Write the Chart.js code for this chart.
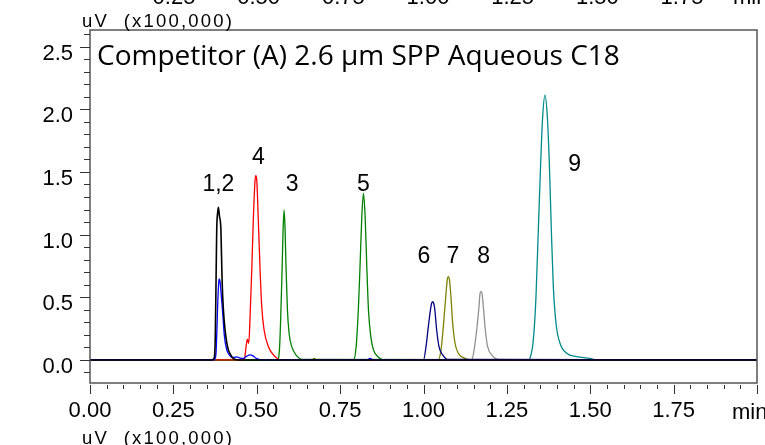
<!DOCTYPE html>
<html>
<head>
<meta charset="utf-8">
<script src="https://cdn.jsdelivr.net/npm/chart.js@4.4.1/dist/chart.umd.min.js"></script>
<style>
  html, body { margin: 0; padding: 0; background: #fff; }
  canvas { display: block; }
</style>
</head>
<body>
<canvas id="chrom" width="765" height="445"></canvas>
<script>
// retention time (min) and signal (uV x100,000)
const blackT = [0, 0.365, 0.371, 0.374, 0.376, 0.378, 0.380, 0.3825, 0.385, 0.388, 0.3925, 0.396, 0.400, 0.405, 0.410, 0.415, 0.422, 0.430, 0.445, 2.0];
const blackY = [0, 0, 0.01, 0.05, 0.24, 0.64, 1.04, 1.17, 1.218, 1.15, 1.04, 0.64, 0.40, 0.24, 0.14, 0.08, 0.04, 0.01, 0, 0];

const blueT = [0, 0.37, 0.375, 0.378, 0.380, 0.383, 0.386, 0.388, 0.391, 0.394, 0.398, 0.403, 0.41, 0.418, 0.425, 0.432, 0.44, 0.45, 0.46, 0.47, 0.48, 0.49, 0.50, 0.52, 0.83, 0.84, 0.85, 2.0];
const blueY = [0, 0, 0.01, 0.06, 0.2, 0.45, 0.62, 0.646, 0.6, 0.5, 0.37, 0.19, 0.08, 0.04, 0.02, 0.02, 0.025, 0.015, 0.012, 0.03, 0.04, 0.03, 0.01, 0, 0, 0.012, 0, 0];

const redT = [0, 0.455, 0.463, 0.468, 0.472, 0.476, 0.480, 0.485, 0.490, 0.495, 0.497, 0.500, 0.505, 0.510, 0.515, 0.522, 0.535, 0.555, 0.570, 2.0];
const redY = [0, 0, 0.005, 0.106, 0.165, 0.133, 0.346, 0.718, 1.143, 1.435, 1.47, 1.435, 1.09, 0.718, 0.425, 0.239, 0.106, 0.027, 0, 0];

const green3T = [0, 0.562, 0.568, 0.572, 0.576, 0.579, 0.582, 0.585, 0.588, 0.592, 0.597, 0.605, 0.620, 0.635, 2.0];
const green3Y = [0, 0, 0.08, 0.346, 0.718, 1.037, 1.196, 1.037, 0.718, 0.399, 0.213, 0.106, 0.032, 0.005, 0];

const green5T = [0, 0.790, 0.798, 0.805, 0.810, 0.815, 0.820, 0.825, 0.830, 0.835, 0.842, 0.850, 0.865, 0.880, 2.0];
const green5Y = [0, 0, 0.106, 0.425, 0.771, 1.143, 1.329, 1.143, 0.744, 0.399, 0.186, 0.08, 0.021, 0, 0];

const navyT = [0, 1.0, 1.0075, 1.0145, 1.0215, 1.0245, 1.0275, 1.0305, 1.0335, 1.0395, 1.0465, 1.0575, 1.0715, 2.0];
const navyY = [0, 0, 0.106, 0.266, 0.412, 0.452, 0.465, 0.452, 0.412, 0.239, 0.106, 0.04, 0.005, 0];

const oliveT = [0, 0.665, 0.672, 0.68, 1.0445, 1.0525, 1.0595, 1.0675, 1.0715, 1.0745, 1.0775, 1.0815, 1.0875, 1.0945, 1.1045, 1.1195, 1.1395, 2.0];
const oliveY = [0, 0, 0.012, 0, 0, 0.08, 0.266, 0.532, 0.645, 0.664, 0.645, 0.532, 0.293, 0.133, 0.053, 0.018, 0, 0];

const grayT = [0, 1.1445, 1.1525, 1.1595, 1.1664, 1.1694, 1.1724, 1.1754, 1.1794, 1.1854, 1.1924, 1.2044, 1.2244, 2.0];
const grayY = [0, 0, 0.093, 0.239, 0.425, 0.53, 0.545, 0.53, 0.425, 0.239, 0.106, 0.04, 0.005, 0];

const tealT = [0, 1.3143, 1.3193, 1.3293, 1.3373, 1.3443, 1.3513, 1.3573, 1.3643, 1.3713, 1.3773, 1.3833, 1.3893, 1.3973, 1.4093, 1.4293, 1.4593, 1.4993, 1.519, 2.0];
const tealY = [0, 0, 0.013, 0.159, 0.505, 1.037, 1.569, 1.94, 2.113, 1.94, 1.569, 1.037, 0.585, 0.293, 0.133, 0.053, 0.027, 0.013, 0, 0];

const peakLabels = ['1,2', '4', '3', '5', '6', '7', '8', '9'];
const peakLabelT = [0.385, 0.505, 0.606, 0.82, 1.0015, 1.0885, 1.1805, 1.453];
const peakLabelY = [1.40, 1.61, 1.40, 1.40, 0.825, 0.825, 0.825, 1.56];

const xTicks = [0, 0.25, 0.5, 0.75, 1.0, 1.25, 1.5, 1.75, 2.0];
const yTicks = [0, 0.5, 1.0, 1.5, 2.0, 2.5];
const topTicks = ['0.25', '0.50', '0.75', '1.00', '1.25', '1.50', '1.75'];

const title = 'Competitor (A) 2.6 \u00b5m SPP Aqueous C18';
const unitLabel = 'uV  (x100,000)';

const ARIAL = '"Liberation Sans", Arial, sans-serif';

function pts(t, v) { return t.map((x, i) => ({ x: x, y: v[i] })); }

// first dataset is painted last, so the black trace sits on top
const traces = [
  { data: pts(blackT, blackY), color: '#000000', w: 1.6 },
  { data: pts(blueT, blueY), color: '#0000ff' },
  { data: pts(redT, redY), color: '#ff0000' },
  { data: pts(green3T, green3Y), color: '#008000' },
  { data: pts(green5T, green5Y), color: '#008000' },
  { data: pts(navyT, navyY), color: '#000080' },
  { data: pts(oliveT, oliveY), color: '#808000' },
  { data: pts(grayT, grayY), color: '#909090' },
  { data: pts(tealT, tealY), color: '#008b8b' }
];

const decor = {
  id: 'decor',
  afterDraw(chart) {
    const { ctx, chartArea: a } = chart;
    const x = chart.scales.x, y = chart.scales.y;
    ctx.save();

    ctx.strokeStyle = '#555';
    ctx.lineWidth = 1.5;
    ctx.strokeRect(a.left, a.top, a.right - a.left, a.bottom - a.top);

    // major / minor tick marks
    ctx.strokeStyle = '#333';
    ctx.lineWidth = 1;
    ctx.beginPath();
    for (let i = -1; i <= 26; i++) {
      const py = Math.round(y.getPixelForValue(i / 10)) + 0.5;
      ctx.moveTo(a.left - (i % 5 === 0 ? 10 : 6), py);
      ctx.lineTo(a.left, py);
    }
    for (let i = 0; i <= 40; i++) {
      const px = Math.round(x.getPixelForValue(i * 0.05)) + 0.5;
      ctx.moveTo(px, a.bottom + 2);
      ctx.lineTo(px, a.bottom + (i % 5 === 0 ? 11 : 6));
    }
    ctx.stroke();

    ctx.fillStyle = '#000';

    // peak numbers
    ctx.font = '23px ' + ARIAL;
    ctx.textAlign = 'center';
    ctx.textBaseline = 'middle';
    peakLabels.forEach((s, i) => {
      ctx.fillText(s, x.getPixelForValue(peakLabelT[i]), y.getPixelForValue(peakLabelY[i]));
    });

    // title inside the frame
    ctx.textAlign = 'left';
    ctx.textBaseline = 'alphabetic';
    ctx.font = '28px "Open Sans", sans-serif';
    ctx.fillText(title, 97, 65);

    // axis unit, and the cut-off neighbouring panels above and below
    ctx.font = '18.5px ' + ARIAL;
    ctx.letterSpacing = '2.2px';
    ctx.fillText(unitLabel, 82, 27);
    ctx.fillText(unitLabel, 82, 444);
    ctx.letterSpacing = '0px';

    ctx.font = '22px ' + ARIAL;
    ctx.fillText('min', 732, 419);
    ctx.fillText('min', 733, 4);
    ctx.textAlign = 'center';
    topTicks.forEach(s => ctx.fillText(s, 89.3 + parseFloat(s) * 338.7, 4));

    ctx.restore();
  }
};

new Chart(document.getElementById('chrom'), {
  type: 'line',
  data: {
    datasets: traces.map(t => ({
      data: t.data,
      borderColor: t.color,
      borderWidth: t.w || 1.3,
      pointRadius: 0,
      fill: false,
      cubicInterpolationMode: 'monotone'
    }))
  },
  options: {
    responsive: false,
    animation: false,
    devicePixelRatio: 1,
    layout: { padding: { top: 30, right: 8, left: 0, bottom: 0 } },
    plugins: { legend: { display: false }, tooltip: { enabled: false } },
    scales: {
      x: {
        type: 'linear', min: 0, max: 2,
        afterFit: s => { s.height = 62; s.paddingLeft = 0; s.paddingRight = 0; },
        afterBuildTicks: s => { s.ticks = xTicks.map(v => ({ value: v })); },
        grid: { display: false, drawTicks: false },
        border: { display: false },
        ticks: {
          color: '#000', font: { family: ARIAL, size: 22 }, padding: 15,
          maxRotation: 0, autoSkip: false,
          callback: v => (v === 2 ? '' : v.toFixed(2))
        }
      },
      y: {
        type: 'linear', min: -0.184, max: 2.632,
        afterFit: s => { s.width = 90; s.paddingTop = 0; s.paddingBottom = 0; },
        afterBuildTicks: s => { s.ticks = yTicks.map(v => ({ value: v })); },
        grid: { display: false, drawTicks: false },
        border: { display: false },
        ticks: {
          color: '#000', font: { family: ARIAL, size: 22 }, padding: 17, labelOffset: 7,
          autoSkip: false,
          callback: v => v.toFixed(1)
        }
      }
    }
  },
  plugins: [decor]
});
</script>
</body>
</html>
